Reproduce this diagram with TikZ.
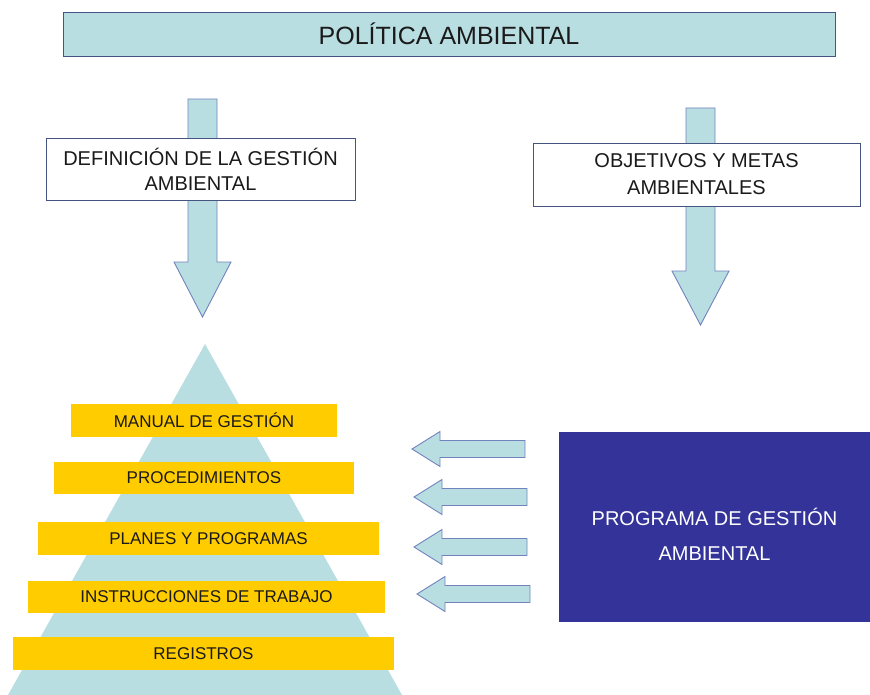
\documentclass[tikz,border=0pt]{standalone}
\usepackage{fontspec}
\setmainfont{Liberation Sans}
\usepackage{xcolor}
\usepackage{tikz}
\usetikzlibrary{calc,positioning}
\definecolor{sky}{HTML}{B9DEE2}
\definecolor{skyline}{HTML}{7282BC}
\definecolor{frame}{HTML}{45557F}
\definecolor{gold}{HTML}{FFCC00}
\definecolor{navy}{HTML}{333399}
\definecolor{ink}{HTML}{1A1A1A}
\tikzset{
  top/.style={draw=frame, fill=sky, line width=0.8pt, minimum width=772, minimum height=44,
    text=ink, font=\fontsize{25}{30}\selectfont},
  barrow/.style={draw=skyline, fill=sky, line width=0.9pt, line join=miter},
  tbox/.style={draw=frame, fill=white, line width=0.8pt, align=center, text=ink},
  pyr/.style={fill=sky},
  bar/.style={fill=gold, minimum height=33, text=ink, inner sep=0pt,
    font=\fontsize{17}{20}\selectfont},
  prog/.style={fill=navy, minimum width=311, minimum height=190},
  labw/.style={text=white, align=center, font=\fontsize{20}{35}\selectfont},
}
\begin{document}
\begin{tikzpicture}[x=1pt,y=-1pt]
\useasboundingbox (0,0) rectangle (870,695);
% politica
\node[top] (pol) at (449,34) {POLÍTICA AMBIENTAL};
% flechas hacia abajo
\draw[barrow] (202.5,99) ++(-14.5,0) -- ++(29,0) -- ++(0,163) -- ++(14,0) -- ++(-28.5,55)
  -- ++(-28.5,-55) -- ++(14,0) -- cycle;
\draw[barrow] (700.5,108) ++(-14.5,0) -- ++(29,0) -- ++(0,163) -- ++(14,0) -- ++(-28.5,54)
  -- ++(-28.5,-54) -- ++(14,0) -- cycle;
\node[tbox, minimum width=309, minimum height=62, font=\fontsize{20}{25}\selectfont] (defi)
  at (200.5,169) {DEFINICIÓN DE LA GESTIÓN\\AMBIENTAL};
\node[tbox, minimum width=327, minimum height=63, font=\fontsize{20}{27}\selectfont] (obj)
  at (696.5,174.5) {OBJETIVOS Y METAS\\AMBIENTALES};
% piramide
\fill[pyr] (205,344) -- (402,695) -- (8,695) -- cycle;
\node[bar, minimum width=266] (man) at (204,420.5) {MANUAL DE GESTIÓN};
\node[bar, minimum width=300, minimum height=32] (proc) at (204,478) {PROCEDIMIENTOS};
\node[bar, minimum width=341] (plan) at (208.5,538.5) {PLANES Y PROGRAMAS};
\node[bar, minimum width=357, minimum height=32] (inst) at (206.5,597) {INSTRUCCIONES DE TRABAJO};
\node[bar, minimum width=381] (reg) at (203.5,653.5) {REGISTROS};
% programa
\node[prog] (pga) at (714.5,527) {};
\node[labw] (pgatxt) at ([yshift=-7pt]pga.center) {PROGRAMA DE GESTIÓN\\AMBIENTAL};
\foreach \y/\x in {449/412,497/414,547/414,594/417}
  \draw[barrow] (\x,\y) -- ++(28,-17.5) -- ++(0,9) -- ++(85,0) -- ++(0,17) -- ++(-85,0)
    -- ++(0,9) -- cycle;
\end{tikzpicture}
\end{document}
